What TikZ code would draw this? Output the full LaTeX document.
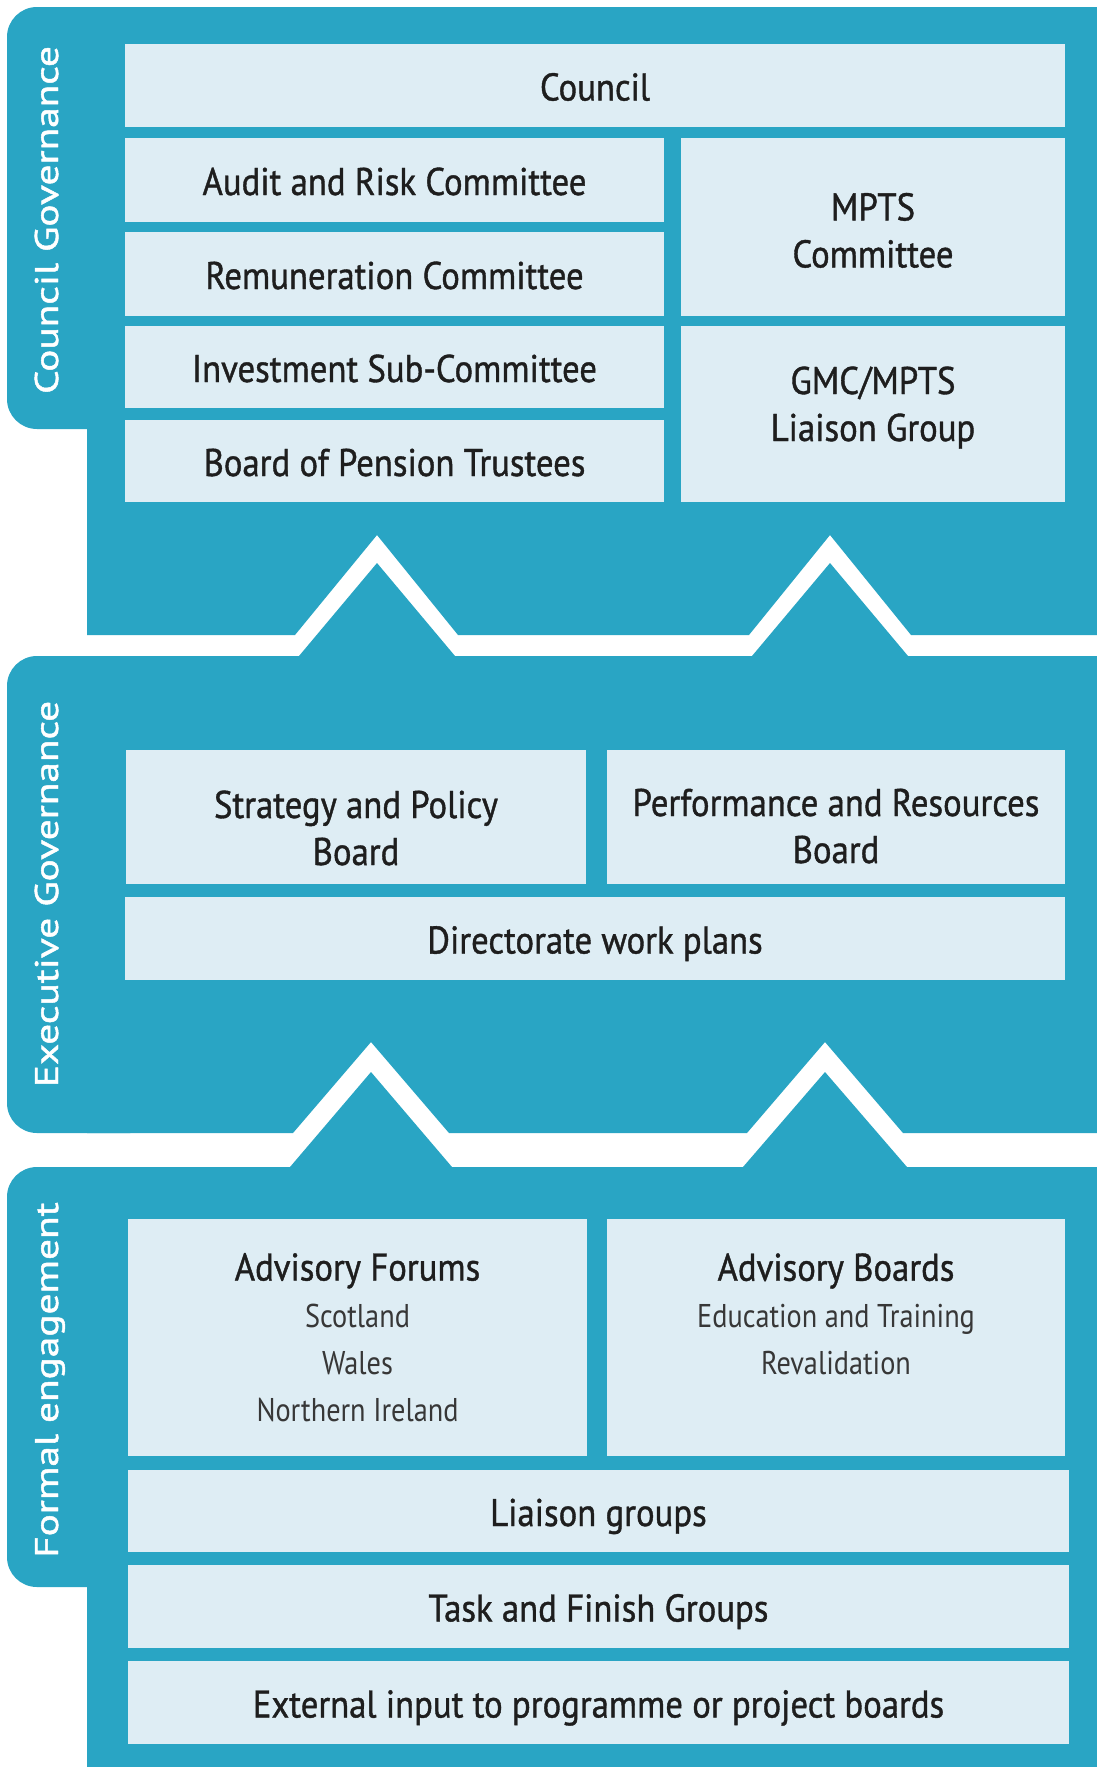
\documentclass[tikz,border=0pt]{standalone}
\usepackage{fontspec}
\setmainfont{PT Sans}
\newfontfamily\boxfont{PT Sans}[FakeStretch=0.9,FakeBold=1]
\newfontfamily\subfont{PT Sans}[FakeStretch=0.86]
\newfontfamily\tabfont{PT Sans}[FakeStretch=1.26,FakeBold=1.5]
\definecolor{gmcteal}{RGB}{41,165,196}
\definecolor{gmcbox}{RGB}{222,237,244}
\definecolor{gmctext}{RGB}{30,30,30}
\definecolor{gmcsub}{RGB}{55,55,55}
\newcommand{\subline}[1]{{\subfont\fontsize{16.45}{23.5}\selectfont\color{gmcsub}#1}}
\begin{document}
\begin{tikzpicture}[x=0.5pt,y=-0.5pt,
  panel/.style={fill=gmcteal, draw=none},
  tabshape/.style={fill=gmcteal, draw=none, rounded corners=15pt},
  box/.style={fill=gmcbox, draw=none, inner sep=0pt, outer sep=0pt, align=center,
    text=gmctext, font=\boxfont\fontsize{19.3}{23.5}\selectfont},
  oneline/.style={text height=16pt, text depth=1pt},
  twoline/.style={text height=#1, text depth=0pt},
  tablabel/.style={rotate=90, anchor=base, text=white, inner sep=0pt,
    font=\tabfont\fontsize{16.4}{20}\selectfont}]
\useasboundingbox (0,0) rectangle (1097,1767);
\fill[white] (0,0) rectangle (1097,1767);

% ---- Council Governance panel
\fill[tabshape] (7,7) rectangle (160,429);
\fill[panel] (87,7) -- (1097,7) -- (1097,635) -- (911,635) -- (830,535) -- (749,635)
  -- (458,635) -- (377,535) -- (295,635) -- (87,635) -- cycle;

% ---- Executive Governance panel
\fill[tabshape] (7,656) rectangle (160,1133);
\fill[panel] (87,656) -- (299,656) -- (377,563) -- (455,656) -- (752,656) -- (830,563)
  -- (908,656) -- (1097,656) -- (1097,1133) -- (903,1133) -- (825,1042) -- (747,1133)
  -- (449,1133) -- (371,1042) -- (293,1133) -- (87,1133) -- cycle;

% ---- Formal engagement panel
\fill[tabshape] (7,1167) rectangle (160,1587);
\fill[panel] (87,1167) -- (290,1167) -- (371,1072) -- (452,1167) -- (743,1167)
  -- (825,1072) -- (907,1167) -- (1097,1167) -- (1097,1767) -- (87,1767) -- cycle;

% ---- tab labels
\node[tablabel] (tcouncil) at (58,220) {Council Governance};
\node[tablabel] (texec) at (58,894) {Executive Governance};
\node[tablabel] (tformal) at (58,1380) {Formal engagement};

% ---- Council boxes
\node[box, oneline, minimum width=470pt, minimum height=41.5pt] (council) at (595,85.5) {Council};
\node[box, oneline, minimum width=269.5pt, minimum height=42pt] (audit) at (394.5,180) {Audit and Risk Committee};
\node[box, oneline, minimum width=269.5pt, minimum height=42pt] (remun) at (394.5,274) {Remuneration Committee};
\node[box, oneline, minimum width=269.5pt, minimum height=41pt] (invest) at (394.5,367) {Investment Sub-Committee};
\node[box, oneline, minimum width=269.5pt, minimum height=41pt] (pension) at (394.5,461) {Board of Pension Trustees};
\node[box, twoline=40.4pt, minimum width=192pt, minimum height=89pt] (mpts) at (873,227) {MPTS\\Committee};
\node[box, twoline=27pt, minimum width=192pt, minimum height=88pt] (liaisonmpts) at (873,414) {GMC/MPTS\\Liaison Group};

% ---- Executive boxes
\node[box, twoline=48pt, minimum width=230pt, minimum height=67pt] (strategy) at (356,817) {Strategy and Policy\\Board};
\node[box, twoline=46pt, minimum width=229pt, minimum height=67pt] (perf) at (836,817) {Performance and Resources\\Board};
\node[box, oneline, minimum width=470pt, minimum height=41.5pt] (director) at (595,938.5) {Directorate work plans};

% ---- Formal engagement boxes
\node[box, minimum width=229.5pt, minimum height=118.5pt] (forums) at (357.5,1337.5) {Advisory Forums\\\subline{Scotland}\\\subline{Wales}\\\subline{Northern Ireland}};
\node[box, minimum width=229pt, minimum height=118.5pt] (advboards) at (836,1337.5) {Advisory Boards\\\subline{Education and Training}\\\subline{Revalidation}\\\mbox{}};
\node[box, oneline, minimum width=470.5pt, minimum height=41pt] (liaison) at (598.5,1511) {Liaison groups};
\node[box, oneline, minimum width=470.5pt, minimum height=41.5pt] (task) at (598.5,1606.5) {Task and Finish Groups};
\node[box, oneline, minimum width=470.5pt, minimum height=41.5pt] (external) at (598.5,1702.5) {External input to programme or project boards};
\end{tikzpicture}
\end{document}
